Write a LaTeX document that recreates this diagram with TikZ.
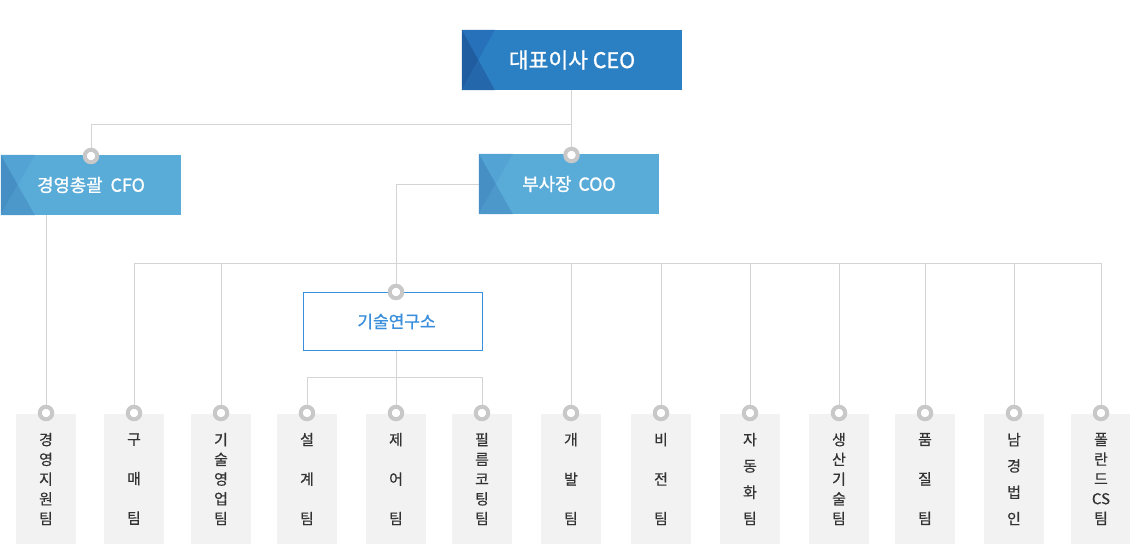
\documentclass[tikz,border=0pt]{standalone}
\usepackage{fontspec}
\setmainfont{Noto Sans CJK KR}
\newfontfamily\krmed[FakeBold=1]{Noto Sans CJK KR}
\newfontfamily\krteam[FakeBold=0.4]{Noto Sans CJK KR}
\usetikzlibrary{calc,backgrounds}
\definecolor{ceoMain}{HTML}{2B80C3}
\definecolor{ceoTop}{HTML}{2771BB}
\definecolor{ceoLeft}{HTML}{1F5DA0}
\definecolor{ceoBot}{HTML}{2467AA}
\definecolor{vpMain}{HTML}{5AACD8}
\definecolor{vpTop}{HTML}{53A3D4}
\definecolor{vpLeft}{HTML}{468FC4}
\definecolor{vpBot}{HTML}{4D98CB}
\definecolor{lineGray}{HTML}{D4D4D4}
\definecolor{dotGray}{HTML}{C8C8C8}
\definecolor{teamFill}{HTML}{F2F2F2}
\definecolor{teamText}{HTML}{333333}
\definecolor{labBlue}{HTML}{3A8FDC}
\newcommand\xdeco[5]{%
  \fill[#3] (#1.north west) -- ($(#1.north west)+(#2,0)$) -- ($(#1.west)+({#2/2},0)$) -- cycle;
  \fill[#4] (#1.north west) -- ($(#1.west)+({#2/2},0)$) -- (#1.south west) -- cycle;
  \fill[#5] (#1.south west) -- ($(#1.west)+({#2/2},0)$) -- ($(#1.south west)+(#2,0)$) -- cycle;
}
\begin{document}
\begin{tikzpicture}[x=1pt,y=-1pt,
  line/.style={draw=lineGray,line width=1pt},
  dot/.style={circle,draw=dotGray,line width=4pt,fill=white,minimum size=12.5pt,inner sep=0pt},
  ceobox/.style={rectangle,fill=ceoMain,minimum width=220pt,minimum height=60pt,inner sep=0pt,text=white,font=\krmed\fontsize{21.5}{24}\selectfont},
  vpbox/.style={rectangle,fill=vpMain,minimum width=180pt,minimum height=60pt,inner sep=0pt,text=white,font=\krmed\fontsize{17.8}{20}\selectfont},
  labbox/.style={rectangle,draw=labBlue,line width=1pt,fill=white,minimum width=179pt,minimum height=58pt,inner sep=0pt,text=labBlue,font=\krmed\fontsize{17}{20}\selectfont},
  team/.style={rectangle,fill=teamFill,minimum width=60pt,minimum height=130pt,inner sep=0pt,align=center,text=teamText},
  tthree/.style={team,font=\krteam\fontsize{15}{39.5}\selectfont},
  tfour/.style={team,font=\krteam\fontsize{15}{26.3}\selectfont},
  tfive/.style={team,font=\krteam\fontsize{15}{19.75}\selectfont}]
\useasboundingbox (0,0) rectangle (1130,546);

% top level boxes
\node[ceobox] (ceo) at (572,60) {대표이사 CEO};
\node[vpbox] (cfo) at (91,185) {경영총괄\hspace{4pt} CFO};
\node[vpbox] (coo) at (569,184) {부사장\hspace{3pt} COO};
\xdeco{ceo}{33}{ceoTop}{ceoLeft}{ceoBot}
\xdeco{cfo}{34}{vpTop}{vpLeft}{vpBot}
\xdeco{coo}{34}{vpTop}{vpLeft}{vpBot}
\node[labbox] (lab) at (393,321.5) {\hspace*{7pt}기술연구소};

% team boxes
\node[tfive]  (t1)  at (46,479)   {경\\영\\지\\원\\팀};
\node[tthree] (t2)  at (134,479)  {구\\매\\팀};
\node[tfive]  (t3)  at (221,479)  {기\\술\\영\\업\\팀};
\node[tthree] (t4)  at (307,479)  {설\\계\\팀};
\node[tthree] (t5)  at (396,479)  {제\\어\\팀};
\node[tfive]  (t6)  at (482,479)  {필\\름\\코\\팅\\팀};
\node[tthree] (t7)  at (571,479)  {개\\발\\팀};
\node[tthree] (t8)  at (661,479)  {비\\전\\팀};
\node[tfour]  (t9)  at (750,479)  {자\\동\\화\\팀};
\node[tfive]  (t10) at (839,479)  {생\\산\\기\\술\\팀};
\node[tthree] (t11) at (925,479)  {품\\질\\팀};
\node[tfour]  (t12) at (1014,479) {남\\경\\법\\인};
\node[tfive]  (t13) at (1101,479) {폴\\란\\드\\CS\\팀};

% connector dots
\node[dot] (d-cfo) at (91,156) {};
\node[dot] (d-coo) at (571.5,155) {};
\node[dot] (d-lab) at (396,292) {};
\foreach \t/\x in {t1/46,t2/134,t3/221,t4/307,t5/396,t6/482,t7/571,t8/661,t9/750,t10/839,t11/925,t12/1014,t13/1101}
  \node[dot] (d-\t) at (\x,413) {};

% connectors
\coordinate (jtop) at (571.5,124);
\coordinate (bus) at (396,263);
\coordinate (lbus) at (396,377);
\begin{scope}[on background layer]
  \draw[line] (ceo.south -| jtop) -- (jtop) -| (d-cfo);
  \draw[line] (jtop) -- (d-coo);
  \draw[line] (d-t1 |- cfo.south) -- (d-t1);
  \draw[line] (coo.west) -| (d-lab);
  \draw[line] (d-t2 |- bus) -- (d-t13 |- bus);
  \foreach \t in {t2,t3,t7,t8,t9,t10,t11,t12,t13}
    \draw[line] (d-\t |- bus) -- (d-\t);
  \draw[line] (d-lab |- lab.south) -- (d-t5);
  \draw[line] (d-t4 |- lbus) -- (d-t6 |- lbus);
  \draw[line] (d-t4 |- lbus) -- (d-t4);
  \draw[line] (d-t6 |- lbus) -- (d-t6);
\end{scope}
\end{tikzpicture}
\end{document}
